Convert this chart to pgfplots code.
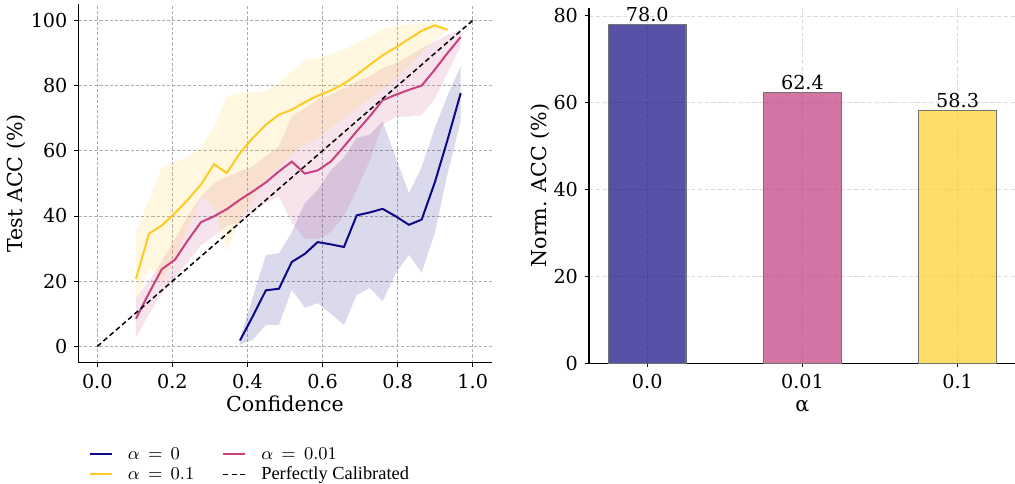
\documentclass[border=0pt]{standalone}
\usepackage{pgfplots}
\usepackage{pgfplotstable}
\pgfplotsset{compat=1.18}
\usepackage{fontspec}
\setmainfont{DejaVu Serif}
\newfontfamily\timesf{Liberation Serif}
\definecolor{cblue}{HTML}{0D0887}
\definecolor{cpink}{HTML}{C8407F}
\definecolor{cyell}{HTML}{FDCA26}
\definecolor{bblue}{HTML}{0F0883}
\definecolor{bpink}{HTML}{BF3A7E}
\definecolor{byell}{HTML}{FBD02A}

\pgfplotstableread{
x mean
0.103 20.7
0.138 34.6
0.172 37.1
0.207 40.9
0.241 45.0
0.276 49.6
0.311 55.9
0.345 53.2
0.380 59.3
0.414 63.9
0.449 68.0
0.484 71.1
0.518 72.6
0.553 74.9
0.587 76.9
0.622 78.5
0.657 80.6
0.691 83.3
0.726 86.4
0.760 89.3
0.795 91.7
0.830 94.3
0.864 96.8
0.899 98.5
0.933 97.1
}\yel

\pgfplotstableread{
x mean
0.103 8.5
0.138 16.4
0.172 23.7
0.207 26.6
0.241 32.5
0.276 38.1
0.311 39.9
0.345 42.1
0.380 45.0
0.414 47.5
0.449 50.3
0.484 53.7
0.518 56.7
0.553 53.0
0.587 54.0
0.622 56.7
0.657 61.3
0.691 66.0
0.726 70.6
0.760 75.5
0.795 77.2
0.830 78.7
0.864 80.0
0.899 84.9
0.933 90.0
0.968 94.9
}\pnk

\pgfplotstableread{
x mean
0.380 1.8
0.414 9.2
0.449 17.2
0.484 17.7
0.518 25.9
0.553 28.4
0.587 32.0
0.622 31.3
0.657 30.5
0.691 40.2
0.726 41.1
0.760 42.2
0.795 39.9
0.830 37.3
0.864 38.9
0.899 50.3
0.933 63.4
0.968 77.7
}\blu

\begin{document}
\begin{tikzpicture}
\path[use as bounding box] (-39.25pt,-60.15pt) rectangle (468.25pt,181.35pt);
\begin{axis}[
  at={(0pt,0pt)}, anchor=south west,
  scale only axis, width=206.5pt, height=179.3pt,
  xmin=-0.05, xmax=1.05, ymin=-5, ymax=105,
  axis x line*=bottom, axis y line*=left,
  axis line style={line width=0.6pt},
  xtick={0,0.2,0.4,0.6,0.8,1}, ytick={0,20,40,60,80,100},
  grid=major, major grid style={dash pattern=on 1.6pt off 1pt, color=black!32, line width=0.45pt},
  tick align=outside, major tick length=2pt, tick style={black, line width=0.5pt},
  /pgf/number format/assume math mode=true,
  xticklabel style={/pgf/number format/.cd, fixed, fixed zerofill, precision=1},
  yticklabel style={/pgf/number format/.cd, fixed, precision=0},
  ticklabel style={font=\fontsize{9.6}{11}\selectfont},
  label style={font=\fontsize{10.3}{12}\selectfont},
  xlabel={Confidence}, ylabel={Test ACC (\%)},
  xlabel style={yshift=3pt},
  ylabel style={yshift=-4.5pt},
  legend columns=2,
  legend cell align=left,
  legend image code/.code={\draw[#1] (0pt,0pt) -- (11pt,0pt);},
  legend style={draw=none, fill=none, at={(0,0)}, anchor=north west,
    inner sep=0pt, outer sep=0pt,
    xshift=5.25pt, yshift=-41.3pt, font=\fontsize{9.2}{10}\selectfont,
    row sep=1pt,
    nodes={inner sep=0pt, outer sep=0pt, text height=7pt, text depth=2pt},
    /tikz/every odd column/.append style={column sep=7.5pt},
    /tikz/every even column/.append style={column sep=14pt}},
]
\addplot[fill=cblue, fill opacity=0.15, draw=none, forget plot] coordinates {
(0.380,2.5)(0.414,15)(0.449,28)(0.484,28.6)(0.518,35)(0.553,44)(0.587,48)(0.622,54)(0.657,58)(0.691,64)(0.726,65)(0.760,69)(0.795,58)(0.830,47)(0.864,55)(0.899,67)(0.933,77)(0.968,86)
(0.968,69)(0.933,53)(0.899,34.8)(0.864,22.7)(0.830,28.1)(0.795,22.5)(0.760,13.8)(0.726,17.9)(0.691,15.8)(0.657,6.6)(0.622,10)(0.587,13.3)(0.553,11.8)(0.518,17.4)(0.484,6.6)(0.449,6.6)(0.414,2)(0.380,0.5)};
\addplot[fill=cpink, fill opacity=0.15, draw=none, forget plot] coordinates {
(0.103,15)(0.138,20)(0.172,26)(0.207,33)(0.241,40)(0.276,46)(0.311,50)(0.345,52)(0.380,53.7)(0.414,55.2)(0.449,58.3)(0.484,61.3)(0.518,70.6)(0.553,73.1)(0.587,75.7)(0.622,77.2)(0.657,79.2)(0.691,81.3)(0.726,82.8)(0.760,85.4)(0.795,86.9)(0.830,89)(0.864,91.5)(0.899,93.5)(0.933,95.6)(0.968,97.3)
(0.968,92)(0.933,84)(0.899,76)(0.864,71)(0.830,70.5)(0.795,70.5)(0.760,68)(0.726,57)(0.691,48)(0.657,40)(0.622,35)(0.587,33)(0.553,33)(0.518,38)(0.484,46)(0.449,44)(0.414,41)(0.380,38)(0.345,37)(0.311,34)(0.276,31)(0.241,26)(0.207,21)(0.172,16)(0.138,10)(0.103,2.6)};
\addplot[fill=cyell, fill opacity=0.15, draw=none, forget plot] coordinates {
(0.103,35)(0.138,45)(0.172,55)(0.207,56.5)(0.241,58)(0.276,61)(0.311,67.5)(0.345,76.7)(0.380,77.7)(0.414,78)(0.449,78.2)(0.484,80.8)(0.518,84.4)(0.553,87.9)(0.587,88.5)(0.622,89.5)(0.657,91)(0.691,93)(0.726,95.1)(0.760,97.4)(0.795,98.2)(0.830,98.8)(0.864,99.2)(0.899,99.5)(0.933,97.2)
(0.933,97)(0.899,94)(0.864,90)(0.830,86)(0.795,82)(0.760,79)(0.726,76)(0.691,73)(0.657,70)(0.622,67)(0.587,64)(0.553,62)(0.518,59)(0.484,55)(0.449,51)(0.414,45)(0.380,39)(0.345,29)(0.311,43)(0.276,46)(0.241,36)(0.207,26.6)(0.172,20.5)(0.138,24)(0.103,14.3)};
\addplot[cblue, line width=1pt, mark=none] table[x=x,y=mean]{\blu};
\addlegendentry{$\alpha\,=\,0$}
\addplot[cpink, line width=1pt, mark=none] table[x=x,y=mean]{\pnk};
\addlegendentry{$\alpha\,=\,0.01$}
\addplot[cyell, line width=1pt, mark=none] table[x=x,y=mean]{\yel};
\addlegendentry{$\alpha\,=\,0.1$}
\addplot[black, line width=0.75pt, dash pattern=on 2.5pt off 1.6pt, mark=none] coordinates {(0,0) (1,100)};
\addlegendentry{{\timesf Perfectly Calibrated}}
\end{axis}

\begin{axis}[
  at={(255.25pt,-0.3pt)}, anchor=south west,
  scale only axis, width=213.4pt, height=177.8pt,
  xmin=-0.375, xmax=2.375, ymin=0, ymax=81.9,
  axis x line*=bottom, axis y line*=left,
  axis line style={line width=0.6pt},
  xtick={0,1,2}, xticklabels={0.0,0.01,0.1},
  ytick={0,20,40,60,80},
  grid=major, major grid style={dash pattern=on 2.2pt off 1.2pt, color=black!14, line width=0.45pt},
  tick align=outside, major tick length=2pt, tick style={black, line width=0.5pt},
  /pgf/number format/assume math mode=true,
  ticklabel style={font=\fontsize{9.6}{11}\selectfont},
  label style={font=\fontsize{10.3}{12}\selectfont},
  xlabel={α}, ylabel={Norm. ACC (\%)},
  xlabel style={yshift=1pt},
  ylabel style={yshift=-5pt},
]
\addplot[ybar, bar width=0.5, bar shift=0pt, fill=bblue, fill opacity=0.7, draw=black!55, line width=0.6pt] coordinates {(0,78.0)};
\addplot[ybar, bar width=0.5, bar shift=0pt, fill=bpink, fill opacity=0.7, draw=black!55, line width=0.6pt] coordinates {(1,62.4)};
\addplot[ybar, bar width=0.5, bar shift=0pt, fill=byell, fill opacity=0.7, draw=black!55, line width=0.6pt] coordinates {(2,58.3)};
\addplot[only marks, mark=none, nodes near coords, point meta=explicit symbolic,
  nodes near coords style={font=\fontsize{9.6}{11}\selectfont, anchor=south, inner sep=1pt}]
  coordinates {(0,78.0) [78.0] (1,62.4) [62.4] (2,58.3) [58.3]};
\end{axis}
\end{tikzpicture}
\end{document}
